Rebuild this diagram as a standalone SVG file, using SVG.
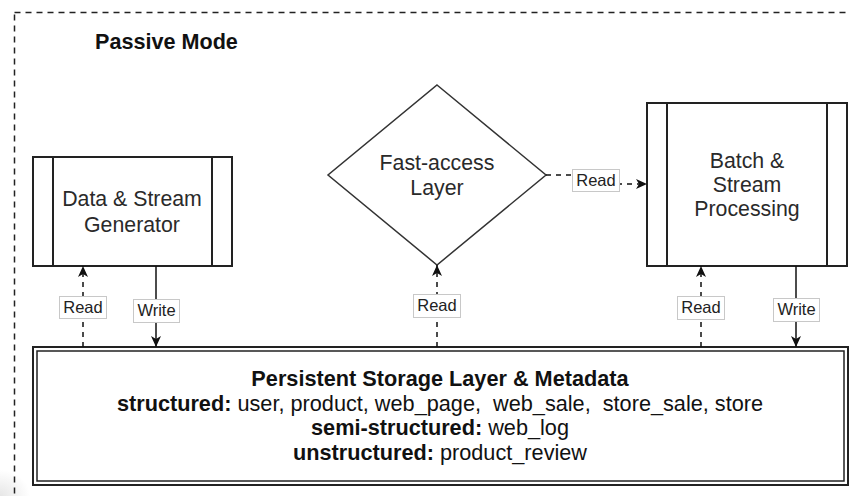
<svg xmlns="http://www.w3.org/2000/svg" width="849" height="496" viewBox="0 0 849 496">
  <defs>
    <style>
      text { font-family: "Liberation Sans", Arial, Helvetica, sans-serif; }
      .frame { fill: none; stroke: #222; stroke-width: 1.5; stroke-dasharray: 6 5; }
      .box { fill: #fff; stroke: #222; stroke-width: 2; }
      .bar { stroke: #222; stroke-width: 2; }
      .diamond { fill: #fff; stroke: #333; stroke-width: 1.5; }
      .node-text { font-size: 21.3px; fill: #2a2a2a; text-anchor: middle; }
      .title { font-size: 21.6px; font-weight: bold; fill: #111; }
      .store-text { font-size: 21.7px; fill: #111; text-anchor: middle; white-space: pre; }
      .b { font-weight: bold; }
      .edge { fill: none; stroke: #111; stroke-width: 1.5; }
      .dashed { stroke-dasharray: 5 5; }
      .lbl-bg { fill: #fff; stroke: #c8c8c8; stroke-width: 1; }
      .lbl { font-size: 16.5px; fill: #222; text-anchor: middle; }
    </style>
    <marker id="arrow" markerUnits="userSpaceOnUse" markerWidth="14" markerHeight="12" refX="12" refY="6" orient="auto">
      <path d="M1,1 L12,6 L1,11 L4,6 Z" fill="#111"/>
    </marker>
    <radialGradient id="corner" cx="0.5" cy="0.5" r="0.5">
      <stop offset="0" stop-color="#e6e6e6"/>
      <stop offset="1" stop-color="#e6e6e6" stop-opacity="0"/>
    </radialGradient>
  </defs>

  <rect width="849" height="496" fill="#fff"/>
  <ellipse cx="0" cy="496" rx="30" ry="26" fill="url(#corner)"/>

  <!-- outer dashed mode frame -->
  <rect class="frame" x="14.5" y="12.5" width="900" height="600"/>
  <text class="title" x="95" y="49">Passive Mode</text>

  <!-- data & stream generator -->
  <g id="generator">
    <rect class="box" x="33" y="157" width="199" height="109"/>
    <line class="bar" x1="53" y1="157" x2="53" y2="266"/>
    <line class="bar" x1="212" y1="157" x2="212" y2="266"/>
    <text class="node-text" x="132" y="206">Data &amp; Stream</text>
    <text class="node-text" x="132" y="232">Generator</text>
  </g>

  <!-- fast-access layer -->
  <g id="fast-access">
    <polygon class="diamond" points="437,85 546,175 437,265 328,175"/>
    <text class="node-text" x="437" y="170">Fast-access</text>
    <text class="node-text" x="437" y="195">Layer</text>
  </g>

  <!-- batch & stream processing -->
  <g id="processing">
    <rect class="box" x="647" y="103" width="200" height="163"/>
    <line class="bar" x1="667" y1="103" x2="667" y2="266"/>
    <line class="bar" x1="827" y1="103" x2="827" y2="266"/>
    <text class="node-text" x="747" y="168">Batch &amp;</text>
    <text class="node-text" x="747" y="192">Stream</text>
    <text class="node-text" x="747" y="216">Processing</text>
  </g>

  <!-- persistent storage -->
  <g id="storage">
    <rect class="box" x="33" y="347" width="815" height="138"/>
    <rect fill="none" stroke="#222" stroke-width="1.5" x="37" y="351" width="807" height="130"/>
    <text class="store-text" x="440" y="386"><tspan class="b">Persistent Storage Layer &amp; Metadata</tspan></text>
    <text class="store-text" x="440" y="411"><tspan class="b">structured:</tspan> user, product, web_page,  web_sale,  store_sale, store</text>
    <text class="store-text" x="440" y="435"><tspan class="b">semi-structured:</tspan> web_log</text>
    <text class="store-text" x="440" y="460"><tspan class="b">unstructured:</tspan> product_review</text>
  </g>

  <!-- connectors -->
  <g id="connectors">
    <line class="edge dashed" x1="83" y1="347" x2="83" y2="266" marker-end="url(#arrow)"/>
    <line class="edge" x1="156" y1="266" x2="156" y2="347" marker-end="url(#arrow)"/>
    <line class="edge dashed" x1="437" y1="347" x2="437" y2="265" marker-end="url(#arrow)"/>
    <path class="edge dashed" d="M546,175 H596 V184 H647" marker-end="url(#arrow)"/>
    <line class="edge dashed" x1="701" y1="347" x2="701" y2="266" marker-end="url(#arrow)"/>
    <line class="edge" x1="796" y1="266" x2="796" y2="347" marker-end="url(#arrow)"/>

    <rect class="lbl-bg" x="59.5" y="296.5" width="47" height="22"/>
    <text class="lbl" x="83" y="313">Read</text>
    <rect class="lbl-bg" x="133.5" y="299.5" width="46" height="23"/>
    <text class="lbl" x="156.5" y="316">Write</text>
    <rect class="lbl-bg" x="413.5" y="294.5" width="47" height="23"/>
    <text class="lbl" x="437" y="311">Read</text>
    <rect class="lbl-bg" x="572.5" y="169.5" width="47" height="22"/>
    <text class="lbl" x="596" y="186">Read</text>
    <rect class="lbl-bg" x="677.5" y="296.5" width="47" height="23"/>
    <text class="lbl" x="701" y="313">Read</text>
    <rect class="lbl-bg" x="773.5" y="298.5" width="46" height="23"/>
    <text class="lbl" x="796.5" y="315">Write</text>
  </g>
</svg>
